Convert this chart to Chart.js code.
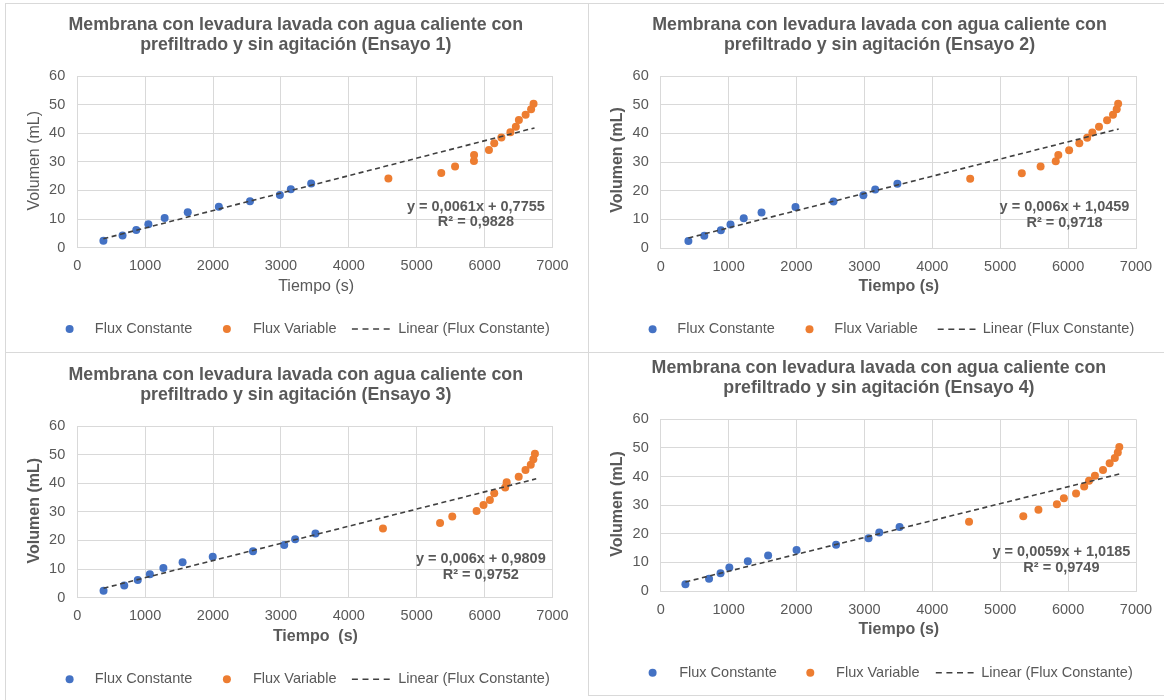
<!DOCTYPE html>
<html>
<head>
<meta charset="utf-8">
<title>Membrana con levadura lavada con agua caliente</title>
<script src="https://cdn.jsdelivr.net/npm/chart.js@4.4.1/dist/chart.umd.min.js"></script>
<style>
  html, body { margin: 0; padding: 0; background: #ffffff; }
  body { width: 1164px; height: 700px; position: relative; overflow: hidden; }
  canvas { position: absolute; display: block; }
  .rule { position: absolute; background: #d9d9d9; }
</style>
</head>
<body>
<div class="rule" style="left:5px;top:3px;width:1159px;height:1px"></div>
<div class="rule" style="left:5px;top:352px;width:1159px;height:1px"></div>
<div class="rule" style="left:588px;top:695px;width:576px;height:1px"></div>
<div class="rule" style="left:5px;top:3px;width:1px;height:697px"></div>
<div class="rule" style="left:588px;top:3px;width:1px;height:693px"></div>

<canvas id="c1" width="583" height="349" style="left:5px;top:3px;width:583px;height:349px"></canvas>
<canvas id="c2" width="576" height="349" style="left:588px;top:3px;width:576px;height:349px"></canvas>
<canvas id="c3" width="583" height="347" style="left:5px;top:353px;width:583px;height:347px"></canvas>
<canvas id="c4" width="576" height="342" style="left:588px;top:353px;width:576px;height:342px"></canvas>

<script>
// ---- data -------------------------------------------------------------
// Volumen (mL) recogido en cada lectura; mismo esquema en los cuatro ensayos
const volConstante = [2.4, 4.3, 6.2, 8.2, 10.4, 12.4, 14.3, 16.2, 18.4, 20.4, 22.4];
const volVariable  = [24.2, 26.1, 28.4, 30.3, 32.4, 34.1, 36.5, 38.5, 40.3, 42.3, 44.6, 46.5, 48.4, 50.3];

// Tiempo (s) de cada lectura, por ensayo
const tConstante1 = [386, 668, 870, 1048, 1288, 1628, 2086, 2545, 2985, 3146, 3446];
const tVariable1  = [4583, 5362, 5565, 5843, 5845, 6064, 6142, 6247, 6380, 6460, 6505, 6604, 6685, 6721];
const tConstante2 = [408, 642, 886, 1028, 1223, 1485, 1985, 2545, 2985, 3159, 3486];
const tVariable2  = [4558, 5318, 5595, 5818, 5856, 6015, 6165, 6281, 6357, 6455, 6574, 6661, 6716, 6737];
const tConstante3 = [388, 693, 892, 1070, 1269, 1552, 1996, 2589, 3049, 3210, 3509];
const tVariable3  = [4503, 5344, 5524, 5882, 5984, 6078, 6142, 6303, 6325, 6502, 6602, 6680, 6718, 6741];
const tConstante4 = [364, 712, 881, 1011, 1283, 1582, 2001, 2583, 3061, 3219, 3518];
const tVariable4  = [4541, 5340, 5563, 5835, 5938, 6117, 6237, 6308, 6395, 6514, 6612, 6688, 6732, 6754];

// Ajuste lineal de "Flux Constante" en cada ensayo
const pendientes  = [0.0061, 0.006, 0.006, 0.0059];
const ordenadas   = [0.7755, 1.0459, 0.9809, 1.0185];
const r2Valores   = [0.9828, 0.9718, 0.9752, 0.9749];
const finTendencia = [6735, 6745, 6760, 6770];

// Ejes
const xTickValues = [0, 1000, 2000, 3000, 4000, 5000, 6000, 7000];
const yTickValues = [0, 10, 20, 30, 40, 50, 60];

const tituloLinea1 = 'Membrana con levadura lavada con agua caliente con';
const tituloLinea2 = ['prefiltrado y sin agitación (Ensayo 1)', 'prefiltrado y sin agitación (Ensayo 2)',
                      'prefiltrado y sin agitación (Ensayo 3)', 'prefiltrado y sin agitación (Ensayo 4)'];
const xTitulos = ['Tiempo (s)', 'Tiempo (s)', 'Tiempo  (s)', 'Tiempo (s)'];
const yTitulo = 'Volumen (mL)';
const leyenda = ['Flux Constante', 'Flux Variable', 'Linear (Flux Constante)'];

// ---- styling / layout -------------------------------------------------
const FONT = '"Liberation Sans", Arial, Helvetica, sans-serif';
const TEXT = '#595959';
const GRID = '#d9d9d9';
const BLUE = '#4472c4';
const ORANGE = '#ed7d31';
const TREND = '#404040';

const layouts = [
  { id: 'c1', area: { l: 72.2, r: 547.5, t: 73, b: 244.7 }, title: { cx: 290.8, y1: 22, y2: 42 },
    yT: { x: 29.6, y: 157.7, bold: false }, xT: { x: 311.1, y: 284, bold: false },
    eq: { cx: 470.9, y1: 203.7, y2: 219.3 },
    lg: { y: 326, d1: 64.6, t1: 89.8, d2: 221.9, t2: 247.9, l0: 346.9, l1: 388.3, t3: 393.2 } },
  { id: 'c2', area: { l: 72.7, r: 548, t: 73, b: 245 }, title: { cx: 291.5, y1: 22, y2: 42 },
    yT: { x: 29.5, y: 157, bold: true }, xT: { x: 310.9, y: 283.7, bold: true },
    eq: { cx: 476.5, y1: 204.3, y2: 220.3 },
    lg: { y: 326.3, d1: 64.6, t1: 89.3, d2: 221.5, t2: 246.3, l0: 349.7, l1: 388.4, t3: 394.7 } },
  { id: 'c3', area: { l: 72.2, r: 547.5, t: 73, b: 244.7 }, title: { cx: 290.8, y1: 22, y2: 42 },
    yT: { x: 29.6, y: 157.7, bold: true }, xT: { x: 310.4, y: 283.7, bold: true },
    eq: { cx: 475.8, y1: 206, y2: 222 },
    lg: { y: 326.3, d1: 64.6, t1: 89.8, d2: 221.9, t2: 247.9, l0: 346.9, l1: 388.3, t3: 393.2 } },
  { id: 'c4', area: { l: 72.7, r: 548, t: 66.3, b: 238 }, title: { cx: 290.9, y1: 15.3, y2: 35.3 },
    yT: { x: 29.5, y: 151, bold: true }, xT: { x: 310.9, y: 277, bold: true },
    eq: { cx: 473.4, y1: 199.3, y2: 215.3 },
    lg: { y: 319.7, d1: 64.6, t1: 91.2, d2: 222.3, t2: 248.1, l0: 347.8, l1: 387.7, t3: 393.2 } }
];

const tConstantes = [tConstante1, tConstante2, tConstante3, tConstante4];
const tVariables  = [tVariable1, tVariable2, tVariable3, tVariable4];

const coma = v => String(v).replace('.', ',');

// Titles, axis titles, trendline equation and legend drawn over each chart
const panelText = {
  id: 'panelText',
  afterDraw(chart, args, opts) {
    const { ctx } = chart;
    const L = opts.layout;
    const i = opts.index;
    ctx.save();
    ctx.fillStyle = TEXT;
    ctx.textBaseline = 'middle';
    ctx.textAlign = 'center';

    ctx.font = 'bold 17.8px ' + FONT;
    ctx.fillText(tituloLinea1, L.title.cx, L.title.y1);
    ctx.fillText(tituloLinea2[i], L.title.cx, L.title.y2);

    ctx.font = (L.xT.bold ? 'bold ' : '') + '16px ' + FONT;
    ctx.fillText(xTitulos[i], L.xT.x, L.xT.y);

    ctx.save();
    ctx.translate(L.yT.x, L.yT.y);
    ctx.rotate(-Math.PI / 2);
    ctx.font = (L.yT.bold ? 'bold ' : '') + '16px ' + FONT;
    ctx.fillText(yTitulo, 0, 0);
    ctx.restore();

    ctx.font = 'bold 14.5px ' + FONT;
    ctx.fillText('y = ' + coma(pendientes[i]) + 'x + ' + coma(ordenadas[i]), L.eq.cx, L.eq.y1);
    ctx.fillText('R\u00b2 = ' + coma(r2Valores[i]), L.eq.cx, L.eq.y2);

    // legend
    const lg = L.lg;
    ctx.fillStyle = BLUE;
    ctx.beginPath(); ctx.arc(lg.d1, lg.y, 4, 0, Math.PI * 2); ctx.fill();
    ctx.fillStyle = ORANGE;
    ctx.beginPath(); ctx.arc(lg.d2, lg.y, 4, 0, Math.PI * 2); ctx.fill();
    ctx.strokeStyle = TREND;
    ctx.lineWidth = 1.6;
    ctx.setLineDash([6, 4.6]);
    ctx.beginPath(); ctx.moveTo(lg.l0, lg.y); ctx.lineTo(lg.l1, lg.y); ctx.stroke();
    ctx.setLineDash([]);
    ctx.fillStyle = TEXT;
    ctx.textAlign = 'left';
    ctx.font = '14.5px ' + FONT;
    ctx.fillText(leyenda[0], lg.t1, lg.y);
    ctx.fillText(leyenda[1], lg.t2, lg.y);
    ctx.fillText(leyenda[2], lg.t3, lg.y);
    ctx.restore();
  }
};

function buildChart(i) {
  const L = layouts[i];
  const canvas = document.getElementById(L.id);
  const W = canvas.width, H = canvas.height;
  const tc = tConstantes[i], tv = tVariables[i];
  const m = pendientes[i], b = ordenadas[i];
  const x0 = tc[0], x1 = finTendencia[i];

  const ptsConst = tc.map((t, k) => ({ x: t, y: volConstante[k] }));
  const ptsVar = tv.map((t, k) => ({ x: t, y: volVariable[k] }));
  const ptsTrend = [{ x: x0, y: m * x0 + b }, { x: x1, y: m * x1 + b }];

  const tickFont = { family: FONT, size: 14.5 };

  return new Chart(canvas, {
    type: 'scatter',
    data: {
      datasets: [
        { label: leyenda[2], type: 'line', data: ptsTrend, order: 0, showLine: true,
          borderColor: TREND, borderWidth: 1.6, borderDash: [5, 3.5], pointRadius: 0, fill: false },
        { label: leyenda[0], data: ptsConst, order: 1, pointRadius: 4, pointHoverRadius: 4,
          backgroundColor: BLUE, borderColor: BLUE, borderWidth: 0 },
        { label: leyenda[1], data: ptsVar, order: 2, pointRadius: 4, pointHoverRadius: 4,
          backgroundColor: ORANGE, borderColor: ORANGE, borderWidth: 0 }
      ]
    },
    options: {
      responsive: false,
      animation: false,
      events: [],
      layout: { padding: { top: L.area.t, right: W - L.area.r, bottom: 0, left: 0 } },
      scales: {
        x: {
          type: 'linear', position: 'bottom', min: 0, max: 7000,
          afterBuildTicks: s => { s.ticks = xTickValues.map(v => ({ value: v })); },
          afterFit: s => { s.height = H - L.area.b; },
          ticks: { color: TEXT, font: tickFont, padding: 10, maxRotation: 0, autoSkip: false,
                   callback: v => String(v) },
          grid: { color: GRID, lineWidth: 1, drawTicks: false },
          border: { display: true, color: GRID, width: 1 }
        },
        y: {
          type: 'linear', position: 'left', min: 0, max: 60,
          afterBuildTicks: s => { s.ticks = yTickValues.map(v => ({ value: v })); },
          afterFit: s => { s.width = L.area.l; },
          ticks: { color: TEXT, font: tickFont, padding: 12, callback: v => String(v) },
          grid: { color: GRID, lineWidth: 1, drawTicks: false },
          border: { display: true, color: GRID, width: 1 }
        }
      },
      plugins: {
        legend: { display: false },
        title: { display: false },
        tooltip: { enabled: false },
        panelText: { layout: L, index: i }
      }
    },
    plugins: [panelText]
  });
}

[0, 1, 2, 3].forEach(buildChart);
</script>
</body>
</html>
